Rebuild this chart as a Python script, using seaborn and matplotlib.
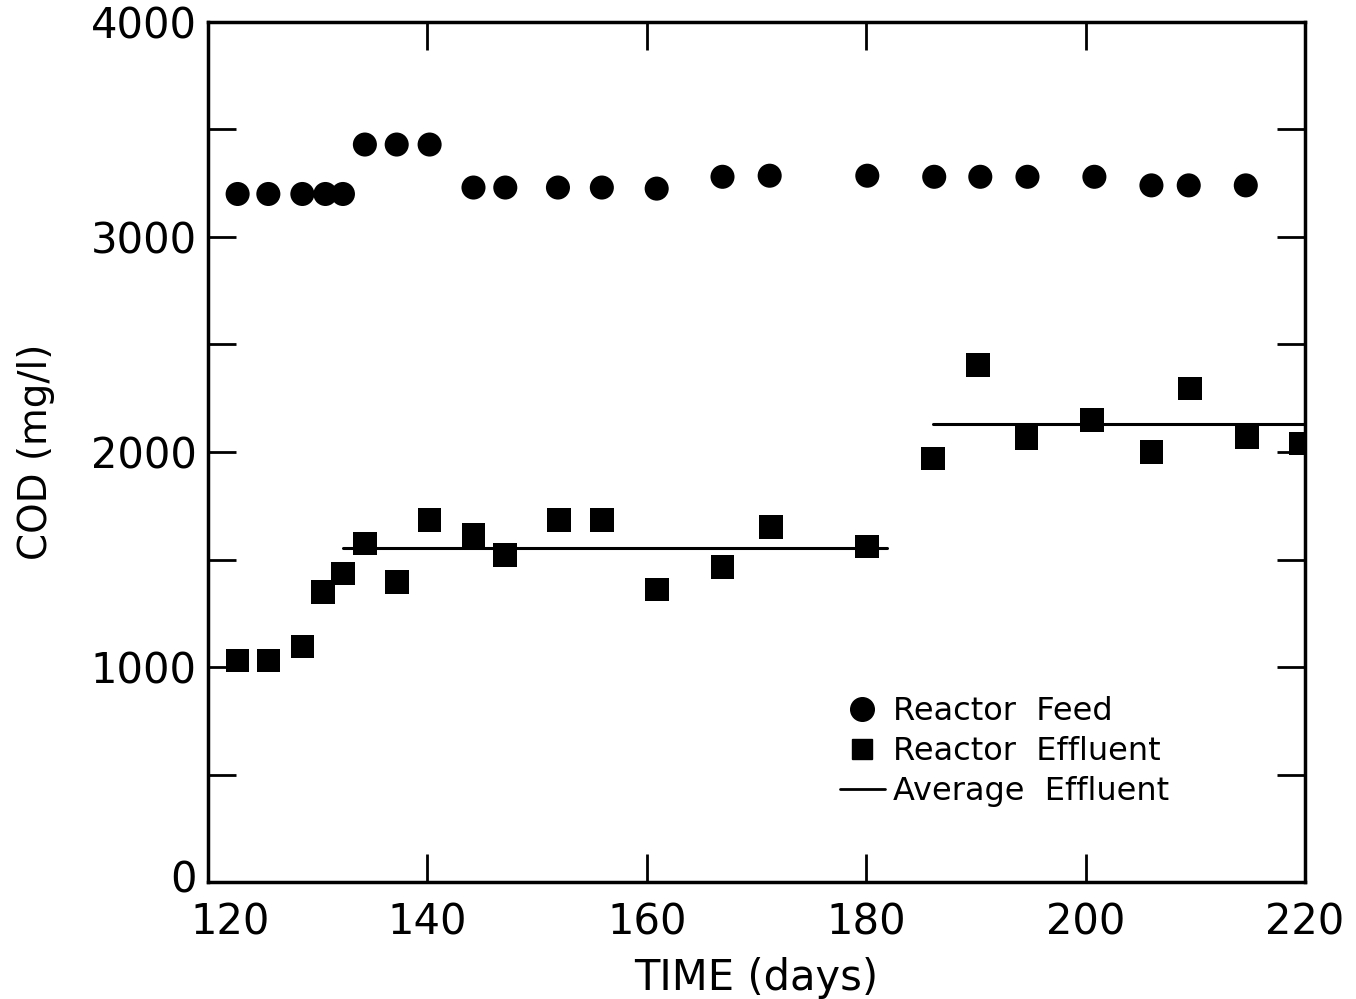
import numpy as np
import matplotlib
matplotlib.use("Agg")
import matplotlib.pyplot as plt
import seaborn as sns
from matplotlib.lines import Line2D
from matplotlib.transforms import ScaledTranslation

sns.set_style("ticks")
plt.rcParams["font.family"] = ["DejaVu Sans"]
plt.rcParams["text.color"] = "black"
plt.rcParams["axes.labelcolor"] = "black"
plt.rcParams["xtick.color"] = "black"
plt.rcParams["ytick.color"] = "black"
plt.rcParams["axes.edgecolor"] = "black"

# days and COD values
feed_day = [122.7, 125.5, 128.6, 130.7, 132.3, 134.3, 137.2, 140.2, 144.2, 147.1,
            151.9, 155.9, 160.9, 166.9, 171.2, 180.1, 186.2, 190.4, 194.7, 200.8,
            206.0, 209.4, 214.6]
feed_cod = [3200, 3200, 3200, 3200, 3200, 3430, 3430, 3430, 3230, 3230,
            3230, 3230, 3225, 3280, 3285, 3285, 3280, 3280, 3280, 3280,
            3240, 3240, 3240]

eff_day = [122.7, 125.5, 128.6, 130.5, 132.3, 134.3, 137.2, 140.2, 144.2, 147.1,
           152.0, 155.9, 160.9, 166.9, 171.3, 180.1, 186.1, 190.2, 194.6, 200.6,
           206.0, 209.5, 214.7, 219.6]
eff_cod = [1030, 1030, 1095, 1350, 1435, 1575, 1395, 1685, 1615, 1520,
           1685, 1685, 1360, 1465, 1650, 1560, 1970, 2405, 2065, 2150,
           2000, 2295, 2070, 2040]

avg1_day = [132.3, 181.9]
avg1_cod = [1553, 1553]
avg2_day = [186.1, 220.0]
avg2_cod = [2130, 2130]

fig = plt.figure(figsize=(13.56, 9.99), dpi=100)
ax = fig.add_axes([0.1534, 0.1171, 0.8090, 0.8609])

sns.scatterplot(x=feed_day, y=feed_cod, marker="o", s=300, color="black",
                edgecolor="none", ax=ax, zorder=3)
sns.scatterplot(x=eff_day, y=eff_cod, marker="s", s=290, color="black",
                edgecolor="none", ax=ax, zorder=3)
sns.lineplot(x=avg1_day, y=avg1_cod, color="black", lw=2.2, ax=ax)
sns.lineplot(x=avg2_day, y=avg2_cod, color="black", lw=2.2, ax=ax)

ax.set_xlim(120, 220)
ax.set_ylim(0, 4000)
ax.set_xticks([120, 140, 160, 180, 200, 220])
ax.set_yticks([0, 1000, 2000, 3000, 4000])
ax.set_yticks([500, 1500, 2500, 3500], minor=True)
ax.tick_params(axis="both", which="both", direction="in", length=20, width=2,
               top=True, right=True, labelsize=30)
ax.tick_params(axis="y", which="major", pad=8)
ax.tick_params(axis="x", which="major", pad=14)
for s in ax.spines.values():
    s.set_linewidth(2.5)

# the first x label sits right of the corner, the "0" slightly above it
first_x = ax.get_xticklabels()[0]
first_x.set_transform(first_x.get_transform() + ScaledTranslation(0.22, 0, fig.dpi_scale_trans))
first_y = ax.get_yticklabels()[0]
first_y.set_transform(first_y.get_transform() + ScaledTranslation(0, 0.06, fig.dpi_scale_trans))

ax.set_xlabel("TIME (days)", fontsize=30, labelpad=10)
ax.set_ylabel("COD (mg/l)", fontsize=28, labelpad=26)

handles = [
    Line2D([], [], marker="o", ls="none", color="black", markersize=17),
    Line2D([], [], marker="s", ls="none", color="black", markersize=15),
    Line2D([], [], color="black", lw=2),
]
ax.legend(handles, ["Reactor  Feed", "Reactor  Effluent", "Average  Effluent"],
          loc="lower left", bbox_to_anchor=(0.55, 0.054), frameon=False,
          fontsize=23, handlelength=1.4, handletextpad=0.25, labelspacing=0.28)

fig.savefig("out.png", dpi=100)
